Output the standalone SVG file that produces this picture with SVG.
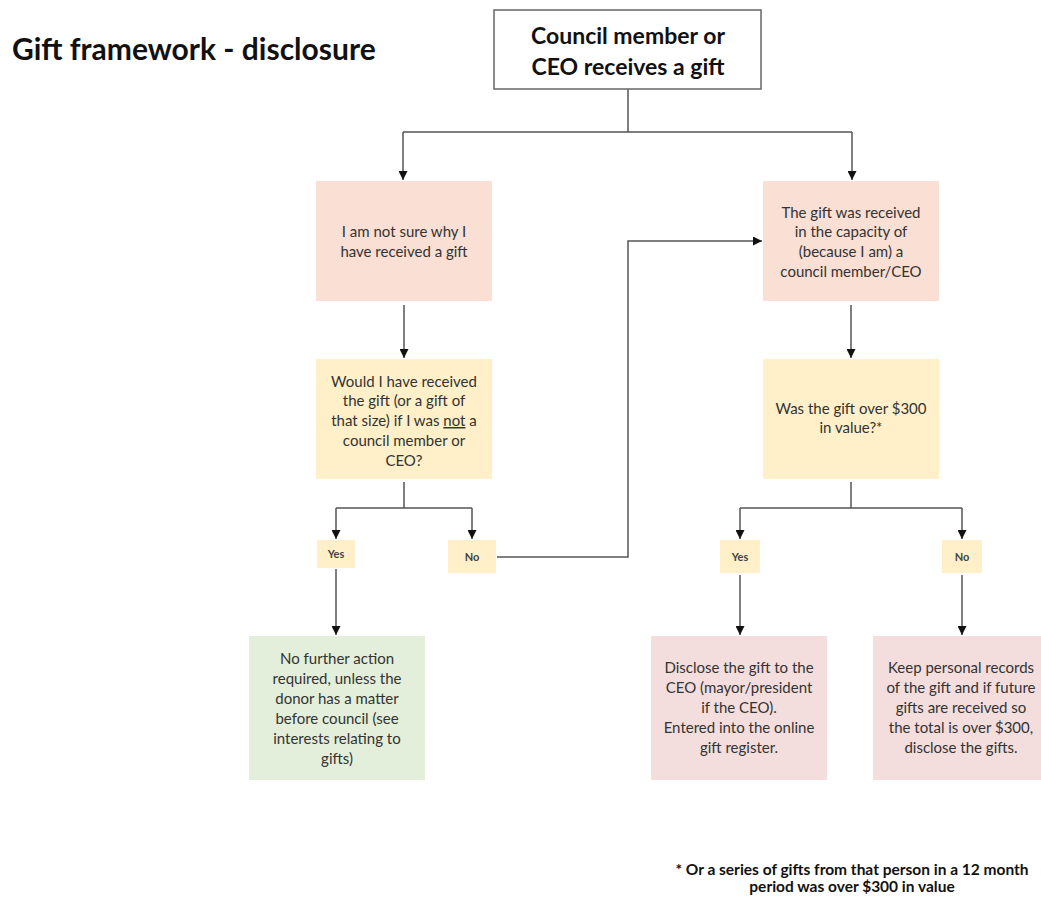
<svg xmlns="http://www.w3.org/2000/svg" width="1041" height="897" viewBox="0 0 1041 897">
  <style>
    .t { font-family: Lato, "Open Sans", "Liberation Sans", sans-serif; fill: #333; text-anchor: middle; font-size: 15px; }
    .b { font-weight: bold; fill: #111; }
    .lbl { font-size: 11px; font-weight: bold; fill: #444; }
    .pink { fill: #FADFD4; }
    .yellow { fill: #FFF0C9; }
    .green { fill: #E3EFDA; }
    .rose { fill: #F3DEDD; }
    .conn { fill: none; stroke: #555; stroke-width: 1.5; }
  </style>
  <defs>
    <marker id="arr" viewBox="0 0 10 10" refX="10" refY="5" markerWidth="9" markerHeight="9" orient="auto" markerUnits="userSpaceOnUse">
      <path d="M0,0 L10,5 L0,10 z" fill="#111"/>
    </marker>
  </defs>
  <rect width="1041" height="897" fill="#fff"/>

  <text class="t b" x="12" y="60" style="text-anchor:start;font-size:30px">Gift framework - disclosure</text>

  <g id="connectors">
    <path class="conn" d="M628,89 V132"/>
    <path class="conn" d="M403,132 H852"/>
    <path class="conn" d="M403,132 V180" marker-end="url(#arr)"/>
    <path class="conn" d="M852,132 V180" marker-end="url(#arr)"/>
    <path class="conn" d="M404,305 V358" marker-end="url(#arr)"/>
    <path class="conn" d="M851,305 V358" marker-end="url(#arr)"/>
    <path class="conn" d="M404,482 V508 M336,508 H472"/>
    <path class="conn" d="M336,508 V539" marker-end="url(#arr)"/>
    <path class="conn" d="M472,508 V539" marker-end="url(#arr)"/>
    <path class="conn" d="M497,557 H628 V241 H762" marker-end="url(#arr)"/>
    <path class="conn" d="M336,569 V635" marker-end="url(#arr)"/>
    <path class="conn" d="M851,482 V508 M740,508 H962"/>
    <path class="conn" d="M740,508 V539" marker-end="url(#arr)"/>
    <path class="conn" d="M962,508 V539" marker-end="url(#arr)"/>
    <path class="conn" d="M740,575 V635" marker-end="url(#arr)"/>
    <path class="conn" d="M962,575 V635" marker-end="url(#arr)"/>
  </g>

  <g id="start">
    <rect x="494" y="10" width="267" height="79" fill="#fff" stroke="#666" stroke-width="1.5"/>
    <text class="t b" x="628" y="44" style="font-size:23px">Council member or</text>
    <text class="t b" x="628" y="75" style="font-size:23px">CEO receives a gift</text>
  </g>

  <g id="not-sure">
    <rect class="pink" x="316" y="181" width="176" height="120"/>
    <text class="t" x="404" y="237">I am not sure why I</text>
    <text class="t" x="404" y="257">have received a gift</text>
  </g>

  <g id="capacity">
    <rect class="pink" x="763" y="181" width="176" height="120"/>
    <text class="t" x="851" y="218">The gift was received</text>
    <text class="t" x="851" y="237">in the capacity of</text>
    <text class="t" x="851" y="257">(because I am) a</text>
    <text class="t" x="851" y="277">council member/CEO</text>
  </g>

  <g id="would-receive">
    <rect class="yellow" x="316" y="359" width="176" height="120"/>
    <text class="t" x="404" y="387">Would I have received</text>
    <text class="t" x="404" y="406">the gift (or a gift of</text>
    <text class="t" x="404" y="426">that size) if I was <tspan text-decoration="underline">not</tspan> a</text>
    <text class="t" x="404" y="446">council member or</text>
    <text class="t" x="404" y="466">CEO?</text>
  </g>

  <g id="over-300">
    <rect class="yellow" x="763" y="359" width="176" height="120"/>
    <text class="t" x="851" y="414">Was the gift over $300</text>
    <text class="t" x="851" y="433">in value?*</text>
  </g>

  <g id="yes-left">
    <rect class="yellow" x="317" y="540" width="38" height="28"/>
    <text class="t lbl" x="336" y="558">Yes</text>
  </g>
  <g id="no-left">
    <rect class="yellow" x="448" y="540" width="48" height="33"/>
    <text class="t lbl" x="472" y="561">No</text>
  </g>
  <g id="yes-right">
    <rect class="yellow" x="720" y="540" width="40" height="33"/>
    <text class="t lbl" x="740" y="561">Yes</text>
  </g>
  <g id="no-right">
    <rect class="yellow" x="942" y="540" width="40" height="33"/>
    <text class="t lbl" x="962" y="561">No</text>
  </g>

  <g id="no-action">
    <rect class="green" x="249" y="636" width="176" height="144"/>
    <text class="t" x="337" y="664">No further action</text>
    <text class="t" x="337" y="684">required, unless the</text>
    <text class="t" x="337" y="704">donor has a matter</text>
    <text class="t" x="337" y="724">before council (see</text>
    <text class="t" x="337" y="744">interests relating to</text>
    <text class="t" x="337" y="764">gifts)</text>
  </g>

  <g id="disclose">
    <rect class="rose" x="651" y="636" width="176" height="144"/>
    <text class="t" x="739" y="673">Disclose the gift to the</text>
    <text class="t" x="739" y="693">CEO (mayor/president</text>
    <text class="t" x="739" y="713">if the CEO).</text>
    <text class="t" x="739" y="733">Entered into the online</text>
    <text class="t" x="739" y="753">gift register.</text>
  </g>

  <g id="keep-records">
    <rect class="rose" x="873" y="636" width="176" height="144"/>
    <text class="t" x="961" y="673">Keep personal records</text>
    <text class="t" x="961" y="693">of the gift and if future</text>
    <text class="t" x="961" y="713">gifts are received so</text>
    <text class="t" x="961" y="733">the total is over $300,</text>
    <text class="t" x="961" y="753">disclose the gifts.</text>
  </g>

  <g id="footnote">
    <text class="t b" x="852" y="875" style="font-size:15.5px">* Or a series of gifts from that person in a 12 month</text>
    <text class="t b" x="852" y="892" style="font-size:15.5px">period was over $300 in value</text>
  </g>
</svg>
